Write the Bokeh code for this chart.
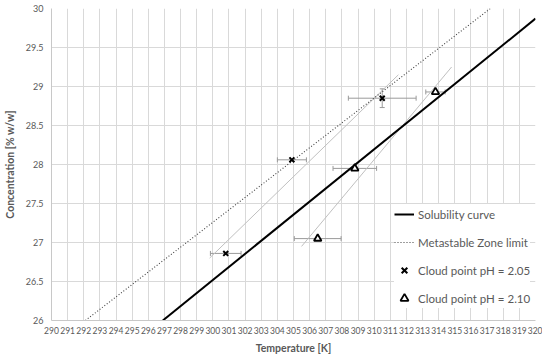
from bokeh.plotting import figure
from bokeh.models import (Range1d, FixedTicker, Legend, LegendItem, Whisker,
                          ColumnDataSource, TeeHead, NumeralTickFormatter)
from bokeh.embed import file_html
from bokeh.resources import INLINE

# ---- data ----
x_ticks = list(range(290, 321))
y_ticks = [26, 26.5, 27, 27.5, 28, 28.5, 29, 29.5, 30]

sol_T = [296.9, 320.0]          # solubility curve
sol_C = [26.0, 29.87]
msz_T = [292.1, 317.2]          # metastable zone limit
msz_C = [26.0, 30.0]

cp205_T = [300.8, 310.5, 304.9]     # cloud points pH = 2.05
cp205_C = [26.86, 28.85, 28.06]
cp205_Terr = [0.95, 2.1, 0.9]
cp205_Cerr = [0.0, 0.12, 0.0]

cp210_T = [313.8, 308.8, 306.5]     # cloud points pH = 2.10
cp210_C = [28.93, 27.95, 27.05]
cp210_Terr = [0.6, 1.35, 1.45]

trend205_T = [299.8, 311.5]         # light grey trend lines
trend205_C = [26.80, 29.15]
trend210_T = [305.5, 314.8]
trend210_C = [26.95, 29.25]

# ---- styling ----
TXT = "#595959"
GRID = "#d9d9d9"
FONT = "Lato"

p = figure(width=542, height=356, output_backend="svg", toolbar_location=None,
           x_range=Range1d(290, 320), y_range=Range1d(26, 30),
           min_border_left=44, min_border_right=7, min_border_top=8, min_border_bottom=34)
p.outline_line_color = None
p.background_fill_color = "white"

p.xaxis.ticker = FixedTicker(ticks=x_ticks)
p.yaxis.ticker = FixedTicker(ticks=y_ticks)
p.yaxis.formatter = NumeralTickFormatter(format="0.[0]")
for ax in (p.xaxis, p.yaxis):
    ax.major_tick_line_color = None
    ax.minor_tick_line_color = None
    ax.major_tick_out = 0
    ax.major_tick_in = 0
    ax.minor_tick_out = 0
    ax.minor_tick_in = 0
    ax.axis_line_color = "#c8c8c8"
    ax.major_label_text_color = TXT
    ax.major_label_text_font = FONT
    ax.axis_label_text_color = TXT
    ax.axis_label_text_font = FONT
    ax.axis_label_text_font_style = "bold"
    ax.axis_label_text_font_size = "10.5px"
p.xaxis.major_label_text_font_size = "8.5px"
p.yaxis.major_label_text_font_size = "9px"
p.xaxis.axis_label = "Temperature [K]"
p.yaxis.axis_label = "Concentration [% w/w]"
p.xaxis.major_label_standoff = 6
p.yaxis.major_label_standoff = 8
p.xaxis.axis_label_standoff = 5
p.yaxis.axis_label_standoff = 7
p.xgrid.grid_line_color = GRID
p.ygrid.grid_line_color = GRID

# trend lines
p.line(trend205_T, trend205_C, line_color="#c0c0c0", line_width=1)
p.line(trend210_T, trend210_C, line_color="#c0c0c0", line_width=1)

EB = "#9a9a9a"

def hbars(T, C, err):
    src = ColumnDataSource(dict(C=C, lo=[t - e for t, e in zip(T, err)],
                                hi=[t + e for t, e in zip(T, err)]))
    w = Whisker(base="C", lower="lo", upper="hi", dimension="width", source=src,
                line_color=EB, line_width=1,
                upper_head=TeeHead(size=5, line_color=EB),
                lower_head=TeeHead(size=5, line_color=EB))
    p.add_layout(w)

def vbars(T, C, err):
    idx = [i for i, e in enumerate(err) if e > 0]
    src = ColumnDataSource(dict(T=[T[i] for i in idx],
                                lo=[C[i] - err[i] for i in idx],
                                hi=[C[i] + err[i] for i in idx]))
    w = Whisker(base="T", lower="lo", upper="hi", dimension="height", source=src,
                line_color=EB, line_width=1,
                upper_head=TeeHead(size=5, line_color=EB),
                lower_head=TeeHead(size=5, line_color=EB))
    p.add_layout(w)

hbars(cp205_T, cp205_C, cp205_Terr)
vbars(cp205_T, cp205_C, cp205_Cerr)
hbars(cp210_T, cp210_C, cp210_Terr)

r_sol = p.line(sol_T, sol_C, line_color="black", line_width=2)
r_msz = p.line(msz_T, msz_C, line_color="#404040", line_width=1.1, line_dash="1 2")
r_x = p.scatter(cp205_T, cp205_C, marker="x", size=7, line_color="black", line_width=2)
r_t = p.scatter(cp210_T, cp210_C, marker="triangle", size=7.5, fill_color="white",
                line_color="black", line_width=1.8)

legend = Legend(items=[
    LegendItem(label="Solubility curve", renderers=[r_sol]),
    LegendItem(label="Metastable Zone limit", renderers=[r_msz]),
    LegendItem(label="Cloud point pH = 2.05", renderers=[r_x]),
    LegendItem(label="Cloud point pH = 2.10", renderers=[r_t]),
], location=(343, 12), orientation="vertical",
   background_fill_color="white", background_fill_alpha=1.0,
   border_line_color=None, padding=3, spacing=8, margin=0,
   glyph_width=20, glyph_height=20, label_height=20, label_standoff=4,
   label_text_font=FONT, label_text_font_size="11.5px", label_text_color=TXT)
p.add_layout(legend)

open("out.html", "w").write(file_html(p, INLINE))
